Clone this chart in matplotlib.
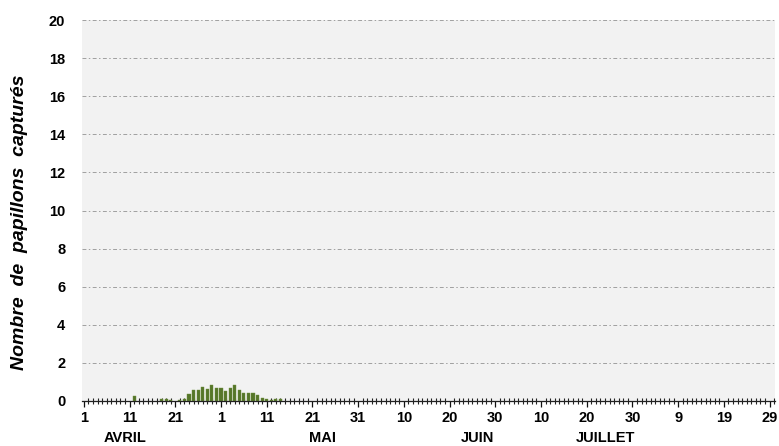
import numpy as np
import matplotlib.pyplot as plt
from matplotlib.ticker import FixedLocator, MultipleLocator
from matplotlib.transforms import blended_transform_factory

plt.rcParams['font.family'] = ['Liberation Sans', 'DejaVu Sans']

# days counted from 1 April (0 = 1 avril)
capture_days = [11, 17, 18, 19, 21, 22, 23, 24, 25, 26, 27, 28, 29, 30,
                31, 32, 33, 34, 35, 36, 37, 38, 39, 40, 41, 42, 43]
capture_counts = [0.27, 0.08, 0.08, 0.06, 0.03, 0.08, 0.37, 0.6, 0.6, 0.74,
                  0.63, 0.84, 0.68, 0.68, 0.53, 0.68, 0.84, 0.6, 0.42, 0.42,
                  0.42, 0.3, 0.15, 0.08, 0.06, 0.1, 0.08]

tick_days = [0, 10, 20, 30, 40, 50, 60, 70, 80, 90, 100, 110, 120, 130, 140, 150]
tick_labels = ['1', '11', '21', '1', '11', '21', '31', '10', '20', '30',
               '10', '20', '30', '9', '19', '29']

month_names = ['AVRIL', 'MAI', 'JUIN', 'JUILLET']
month_pos = [9, 52.3, 86, 114.2]

fig = plt.figure(figsize=(7.79, 4.46), dpi=100)
ax = fig.add_axes([0.105, 0.101, 0.89, 0.854])
ax.set_facecolor('#F2F2F2')

ax.bar(capture_days, capture_counts, width=0.7, color='#56762A',
       edgecolor='#6E8E3C', linewidth=0.3, zorder=3)

ax.set_xlim(-0.45, 151.2)
ax.set_ylim(0, 20)

ax.yaxis.set_major_locator(MultipleLocator(2))
ax.grid(axis='y', color='#A0A0A0', linestyle=(0, (4, 2.5, 1.5, 2.5)), linewidth=0.7, zorder=1)
ax.tick_params(axis='y', length=0, pad=12, labelsize=10.5)

ax.xaxis.set_major_locator(FixedLocator(tick_days))
ax.set_xticklabels(tick_labels)
ax.xaxis.set_minor_locator(MultipleLocator(1))
ax.tick_params(axis='x', which='major', direction='out', length=4, width=0.9,
               pad=3, labelsize=10.5, color='#111111')
ax.tick_params(axis='x', which='minor', direction='inout', length=5, width=0.8,
               color='#222222')

for lab in ax.get_xticklabels() + ax.get_yticklabels():
    lab.set_fontweight('bold')

for side in ['left', 'right', 'top']:
    ax.spines[side].set_visible(False)
ax.spines['bottom'].set_color('#222222')
ax.spines['bottom'].set_linewidth(0.9)
ax.spines['bottom'].set_zorder(4)

trans = blended_transform_factory(ax.transData, fig.transFigure)
for name, pos in zip(month_names, month_pos):
    ax.text(pos, 1 - 438 / 446, name, transform=trans, ha='center', va='center',
            fontsize=10.5, fontweight='bold')

fig.text(0.025, 0.502, 'Nombre  de  papillons  capturés', rotation=90,
         ha='center', va='center', fontsize=14, fontweight='bold', style='italic')

fig.savefig('out.png', dpi=100)
